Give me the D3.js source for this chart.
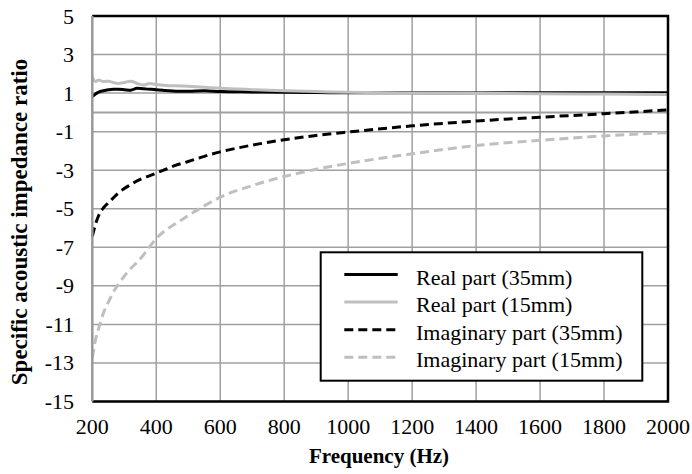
<!DOCTYPE html>
<html>
<head>
<meta charset="utf-8">
<script src="https://cdn.jsdelivr.net/npm/d3@7"></script>
<style>
  html, body { margin: 0; padding: 0; background: #fff; }
  svg { display: block; }
</style>
</head>
<body>
<svg id="chart" width="692" height="474" font-family="'Liberation Serif', 'Times New Roman', Times, serif"></svg>
<script>
// frequencies (Hz) shared by all series
const freq = [200, 210, 220, 235, 250, 265, 280, 300, 320, 340, 360, 380, 400, 430, 460,
  500, 550, 600, 700, 800, 900, 1000, 1200, 1400, 1600, 1800, 2000];

const real35 = [0.82, 0.95, 1.05, 1.12, 1.17, 1.2, 1.2, 1.18, 1.15, 1.25, 1.22, 1.2, 1.18, 1.14, 1.1,
  1.1, 1.12, 1.08, 1.06, 1.04, 1.03, 1.02, 1.02, 1.01, 1.02, 1.02, 1.02];
const real15 = [1.85, 1.6, 1.68, 1.6, 1.62, 1.55, 1.5, 1.55, 1.62, 1.5, 1.42, 1.5, 1.45, 1.4, 1.38,
  1.35, 1.3, 1.25, 1.18, 1.12, 1.08, 1.04, 1.0, 0.98, 0.97, 0.95, 0.93];
const imag35 = [-6.43, -5.8, -5.35, -4.95, -4.7, -4.45, -4.2, -3.95, -3.75, -3.55, -3.4, -3.28, -3.15, -2.95, -2.75,
  -2.55, -2.28, -2.05, -1.7, -1.42, -1.2, -1.02, -0.7, -0.45, -0.25, -0.07, 0.13];
const imag15 = [-12.74, -11.8, -11.2, -10.4, -9.85, -9.35, -8.95, -8.5, -8.1, -7.78, -7.4, -6.95, -6.55, -6.1, -5.78,
  -5.35, -4.85, -4.4, -3.8, -3.33, -2.95, -2.65, -2.15, -1.72, -1.45, -1.22, -1.05];

const xTicks = [200, 400, 600, 800, 1000, 1200, 1400, 1600, 1800, 2000];
const yTicks = [5, 3, 1, -1, -3, -5, -7, -9, -11, -13, -15];

const seriesNames = ["Real part (35mm)", "Real part (15mm)", "Imaginary part (35mm)", "Imaginary part (15mm)"];
const seriesValues = [real35, real15, imag35, imag15];
const colors = ["#000000", "#bfbfbf", "#000000", "#bfbfbf"];
const dashes = [null, null, "9,5", "9,5"];

const svg = d3.select("#chart");
const margin = { top: 16, right: 24, bottom: 72.5, left: 92.3 },
  width = 692, height = 474;

const x = d3.scaleLinear().domain([200, 2000]).range([margin.left, width - margin.right]);
const y = d3.scaleLinear().domain([-15, 5]).range([height - margin.bottom, margin.top]);

// grid
const gGrid = svg.append("g").attr("stroke", "#a0a0a0").attr("stroke-width", 1.5);
gGrid.selectAll("line.h").data(yTicks).join("line")
  .attr("x1", x(200)).attr("x2", x(2000))
  .attr("y1", (d) => y(d)).attr("y2", (d) => y(d));
gGrid.selectAll("line.v").data(xTicks.slice(1, -1)).join("line")
  .attr("x1", (d) => x(d)).attr("x2", (d) => x(d))
  .attr("y1", y(5)).attr("y2", y(-15));

// horizontal axis line at zero
svg.append("line")
  .attr("x1", x(200)).attr("x2", x(2000))
  .attr("y1", y(0)).attr("y2", y(0))
  .attr("stroke", "#a0a0a0").attr("stroke-width", 2);

// series
const line = d3.line()
  .x((d, i) => x(freq[i]))
  .y((d) => y(d))
  .curve(d3.curveMonotoneX);

svg.append("g").selectAll("path")
  .data(seriesValues)
  .join("path")
  .attr("d", line)
  .attr("fill", "none")
  .attr("stroke", (d, i) => colors[i])
  .attr("stroke-width", 3)
  .attr("stroke-dasharray", (d, i) => dashes[i]);

// plot border
svg.append("path")
  .attr("d", `M${x(200)},${y(5)}H${x(2000)}V${y(-15)}H${x(200)}`)
  .attr("fill", "none").attr("stroke", "#000").attr("stroke-width", 2.5);
svg.append("line")
  .attr("x1", x(200)).attr("x2", x(200))
  .attr("y1", y(5)).attr("y2", y(-15))
  .attr("stroke", "#999").attr("stroke-width", 2.5);

// tick labels
svg.append("g").selectAll("text").data(yTicks).join("text")
  .attr("x", 74).attr("y", (d) => y(d) + 7.5)
  .attr("text-anchor", "end")
  .attr("font-size", 22)
  .text((d) => d);

svg.append("g").selectAll("text").data(xTicks).join("text")
  .attr("x", (d) => x(d)).attr("y", 434)
  .attr("text-anchor", "middle")
  .attr("font-size", 22)
  .text((d) => d);

// axis titles
svg.append("text")
  .attr("x", 379).attr("y", 463)
  .attr("text-anchor", "middle")
  .attr("font-size", 21).attr("font-weight", "bold")
  .text("Frequency (Hz)");

svg.append("text")
  .attr("transform", "translate(27,222) rotate(-90)")
  .attr("text-anchor", "middle")
  .attr("font-size", 23).attr("font-weight", "bold")
  .text("Specific acoustic impedance ratio");

// legend
const gLegend = svg.append("g");
gLegend.append("rect")
  .attr("x", 320.7).attr("y", 252.3)
  .attr("width", 321.6).attr("height", 128.4)
  .attr("fill", "#fff").attr("stroke", "#000").attr("stroke-width", 2);

const rows = gLegend.selectAll("g").data(seriesNames).join("g")
  .attr("transform", (d, i) => `translate(0,${274.5 + i * 27.6})`);
rows.append("line")
  .attr("x1", 344.3).attr("x2", 397.7)
  .attr("stroke", (d, i) => colors[i])
  .attr("stroke-width", 3)
  .attr("stroke-dasharray", (d, i) => dashes[i]);
rows.append("text")
  .attr("x", 416).attr("y", 10)
  .attr("font-size", 22)
  .text((d) => d);
</script>
</body>
</html>
